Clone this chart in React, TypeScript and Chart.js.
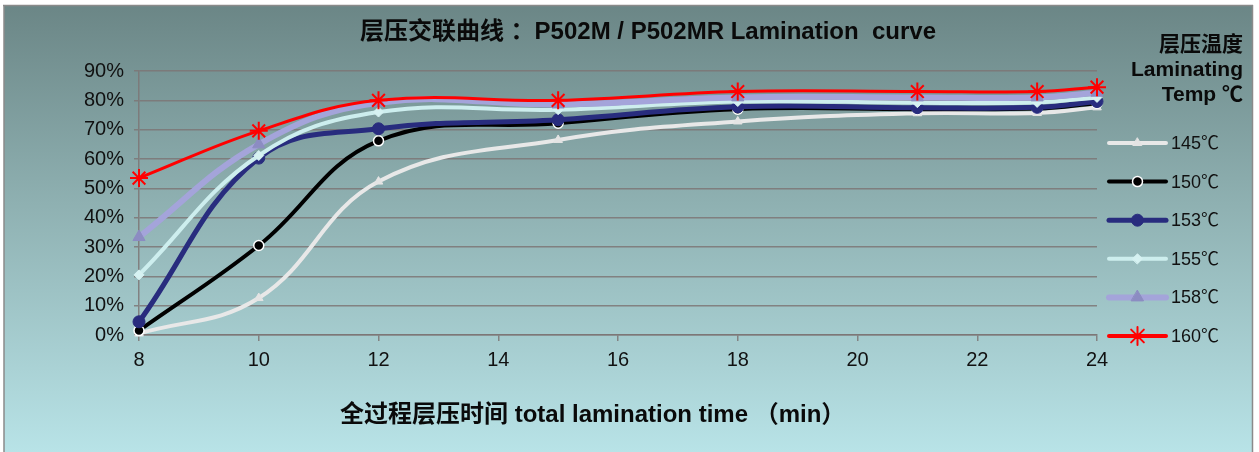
import React, { useEffect, useRef } from "react";
import { Chart, registerables } from "chart.js";
import { drawPoint } from "chart.js/helpers";

Chart.register(...registerables);

const times = [8, 10, 12, 15, 18, 21, 23, 24];
const xTicks = [8, 10, 12, 14, 16, 18, 20, 22, 24];
const yTicks = [0, 10, 20, 30, 40, 50, 60, 70, 80, 90];

const temps = ["145℃", "150℃", "153℃", "155℃", "158℃", "160℃"];
const s145 = [0.5, 12.6, 52.3, 66.5, 72.8, 75.6, 75.7, 77.6];
const s150 = [1.5, 30.5, 66.2, 72.2, 77.0, 77.0, 77.2, 79.0];
const s153 = [4.5, 60.3, 70.3, 73.4, 77.8, 77.5, 77.6, 79.6];
const s155 = [20.5, 61.2, 76.0, 76.8, 79.6, 79.2, 79.3, 81.0];
const s158 = [33.4, 65.0, 79.2, 78.6, 81.0, 81.0, 81.0, 82.6];
const s160 = [53.5, 69.6, 80.0, 80.0, 83.0, 83.0, 83.0, 84.5];

const title = "层压交联曲线 ：P502M / P502MR Lamination  curve";
const xTitle = "全过程层压时间 total lamination time （min）";
const legendTitle = ["层压温度", "Laminating", "Temp ℃"];

const FONT = '"Liberation Sans", Arial, "Noto Sans CJK SC", sans-serif';

export default function App() {
  const ref = useRef<HTMLCanvasElement>(null);

  useEffect(() => {
    const canvas = ref.current!;
    const mk = (
      label: string,
      data: number[],
      color: string,
      width: number,
      pstyle: string,
      pfill: string,
      pborder: string,
      radius: number,
      pbw: number,
      order: number
    ) => ({
      label,
      data: data.map((v, i) => ({ x: times[i], y: v })),
      borderColor: color,
      backgroundColor: pfill,
      borderWidth: width,
      pointStyle: pstyle,
      pointRadius: radius,
      pointBackgroundColor: pfill,
      pointBorderColor: pborder,
      pointBorderWidth: pbw,
      tension: 0.4,
      clip: false,
      order,
    });

    const datasets = [
      mk(temps[0], s145, "#e8e8e8", 4, "triangle", "#e4e4e4", "#e4e4e4", 5, 1, 5),
      mk(temps[1], s150, "#000000", 4, "circle", "#000000", "#ffffff", 5, 1.5, 4),
      mk(temps[2], s153, "#282c7e", 5, "circle", "#282c7e", "#282c7e", 6, 1, 3),
      mk(temps[3], s155, "#cdeeee", 4, "rectRot", "#d6f2f2", "#d6f2f2", 5, 1, 2),
      mk(temps[4], s158, "#a4a4da", 6, "triangle", "#8c8cc2", "#8c8cc2", 7, 1, 1),
      mk(temps[5], s160, "#ff0000", 3, "star", "#ff0000", "#ff0000", 9, 2, 0),
    ];

    const bgPlugin = {
      id: "bg",
      beforeDraw(chart: any) {
        const ctx = chart.ctx as CanvasRenderingContext2D;
        const W = chart.width;
        const H = chart.height;
        ctx.save();
        ctx.fillStyle = "#ffffff";
        ctx.fillRect(0, 0, W, H);
        const g = ctx.createLinearGradient(0, 5, 0, H);
        g.addColorStop(0, "#6b8686");
        g.addColorStop(0.45, "#8fb1b2");
        g.addColorStop(1, "#b8e3e7");
        ctx.fillStyle = g;
        ctx.fillRect(4, 5, 1249, H - 5);
        ctx.strokeStyle = "#8a8a8a";
        ctx.lineWidth = 1.5;
        ctx.beginPath();
        ctx.moveTo(3, 5.5);
        ctx.lineTo(1253, 5.5);
        ctx.moveTo(4, 5);
        ctx.lineTo(4, H);
        ctx.moveTo(1252.5, 5);
        ctx.lineTo(1252.5, H);
        ctx.stroke();
        ctx.restore();
      },
    };

    const textPlugin = {
      id: "texts",
      afterDraw(chart: any) {
        const ctx = chart.ctx as CanvasRenderingContext2D;
        ctx.save();
        ctx.fillStyle = "#0a0a0a";
        ctx.textBaseline = "middle";
        // main title
        ctx.textAlign = "center";
        ctx.font = `bold 24px ${FONT}`;
        ctx.fillText(title, 648, 32);
        // x axis title
        ctx.textAlign = "left";
        ctx.font = `bold 24px ${FONT}`;
        ctx.fillText(xTitle, 340, 415);
        // legend title
        ctx.textAlign = "right";
        ctx.font = `bold 21px ${FONT}`;
        legendTitle.forEach((t, i) => ctx.fillText(t, 1243, 45 + i * 25));
        // legend items
        const x1 = 1109;
        const x2 = 1166;
        chart.data.datasets.forEach((ds: any, i: number) => {
          const y = 143 + i * 38.6;
          ctx.strokeStyle = ds.borderColor;
          ctx.lineWidth = Math.max(ds.borderWidth, 4);
          ctx.lineCap = "round";
          ctx.beginPath();
          ctx.moveTo(x1, y);
          ctx.lineTo(x2, y);
          ctx.stroke();
          ctx.fillStyle = ds.pointBackgroundColor;
          ctx.strokeStyle = ds.pointBorderColor;
          ctx.lineWidth = ds.pointBorderWidth;
          drawPoint(
            ctx,
            {
              pointStyle: ds.pointStyle,
              radius: ds.pointRadius,
              rotation: 0,
              borderWidth: ds.pointBorderWidth,
            } as any,
            (x1 + x2) / 2,
            y
          );
          ctx.fillStyle = "#111111";
          ctx.textAlign = "left";
          ctx.font = `18px ${FONT}`;
          ctx.fillText(ds.label, 1171, y + 1);
        });
        ctx.restore();
      },
    };

    const gridColor = "rgba(125,118,118,0.85)";

    const chart = new Chart(canvas, {
      type: "line",
      data: { datasets: datasets as any },
      plugins: [bgPlugin, textPlugin],
      options: {
        responsive: false,
        animation: false,
        events: [],
        layout: { padding: { top: 71, right: 162, left: 0, bottom: 0 } },
        plugins: {
          legend: { display: false },
          title: { display: false },
          tooltip: { enabled: false },
        },
        scales: {
          x: {
            type: "linear",
            min: 8,
            max: 24,
            afterFit: (s: any) => {
              s.height = 117;
            },
            afterBuildTicks: (s: any) => {
              s.ticks = xTicks.map((v) => ({ value: v }));
            },
            ticks: {
              color: "#111111",
              font: { size: 20, family: FONT },
              padding: 7,
              maxRotation: 0,
            },
            grid: {
              drawOnChartArea: false,
              drawTicks: true,
              tickLength: 6,
              color: gridColor,
              lineWidth: 1.5,
            },
            border: { display: true, color: gridColor, width: 1.5 },
          },
          y: {
            min: 0,
            max: 90,
            afterFit: (s: any) => {
              s.width = 139;
            },
            afterBuildTicks: (s: any) => {
              s.ticks = yTicks.map((v) => ({ value: v }));
            },
            ticks: {
              color: "#111111",
              font: { size: 20, family: FONT },
              padding: 10,
              callback: (v: any) => `${v}%`,
            },
            grid: {
              color: gridColor,
              lineWidth: 1.5,
              tickLength: 5,
            },
            border: { display: true, color: gridColor, width: 1.5 },
          },
        },
      },
    });

    return () => chart.destroy();
  }, []);

  return (
    <div style={{ position: "absolute", left: 0, top: 0, width: 1259, height: 452 }}>
      <canvas ref={ref} width={1259} height={452} />
    </div>
  );
}
